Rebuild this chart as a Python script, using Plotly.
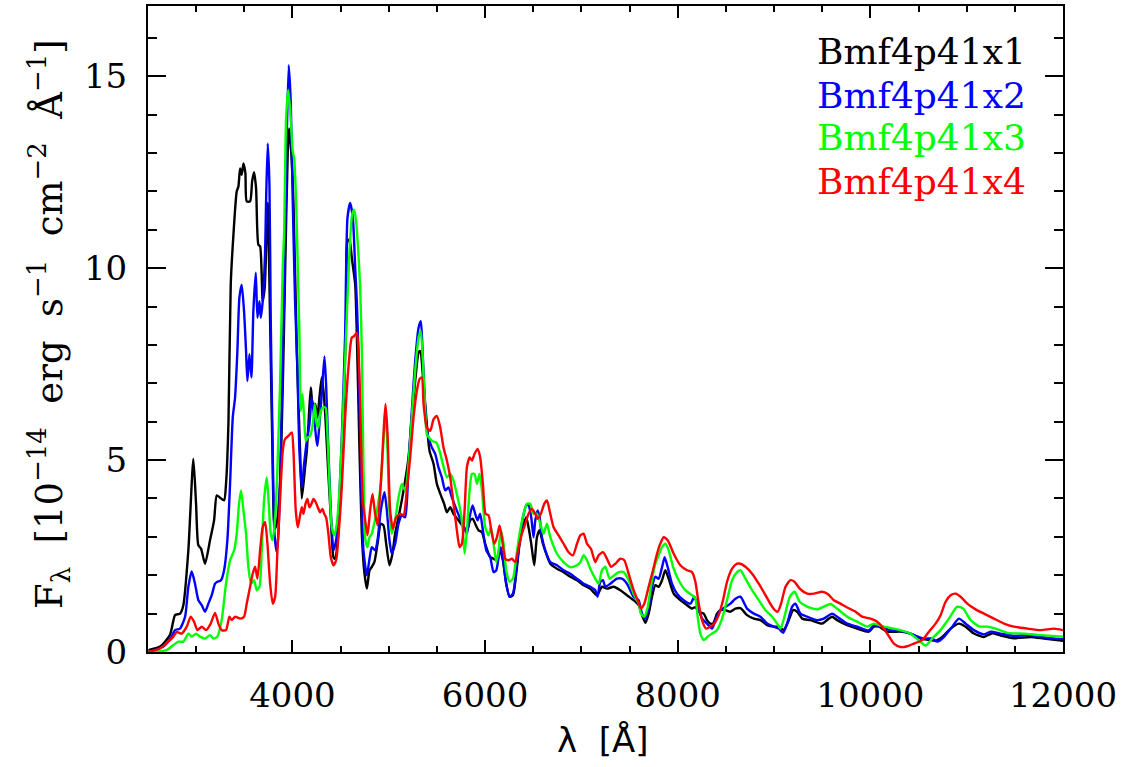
import plotly.graph_objects as go

# ---- data (wavelength [A], flux [1e-14 erg/s/cm2/A]) ----
series_names = ["Bmf4p41x1", "Bmf4p41x2", "Bmf4p41x3", "Bmf4p41x4"]
series_colors = ["#000000", "#0000ff", "#00ff00", "#ff0000"]

x1_points = [(2504,0.05),(2625,0.14),(2729,0.45),(2781,0.96),(2833,1.0),(2867,1.22),(2919,2.65),(2971,5.03),(2999,3.86),(3023,2.78),(3051,2.69),(3092,2.30),(3144,2.91),(3186,3.43),(3214,4.08),(3248,4.02),(3290,3.95),(3310,4.38),(3335,5.94),(3359,9.58),(3387,10.87),(3421,12.0),(3439,12.13),(3456,12.6),(3473,12.43),(3491,12.73),(3511,12.48),(3525,11.74),(3560,11.74),(3581,12.26),(3601,12.5),(3622,12.08),(3646,10.61),(3664,10.57),(3691,9.14),(3712,9.5),(3743,11.7),(3765,9.0),(3790,5.5),(3815,3.2),(3840,3.4),(3871,4.4),(3900,7.0),(3923,9.8),(3951,13.04),(3965,13.64),(3982,13.2),(4010,11.74),(4045,7.84),(4079,5.24),(4097,4.0),(4131,4.81),(4149,5.24),(4166,5.94),(4190,6.89),(4211,6.46),(4235,6.46),(4259,6.11),(4280,6.63),(4304,7.15),(4322,6.80),(4342,6.11),(4367,4.9),(4398,3.51),(4426,2.47),(4443,2.43),(4467,2.82),(4495,3.95),(4529,6.11),(4557,8.71),(4571,10.70),(4592,10.75),(4616,10.27),(4651,9.58),(4668,8.28),(4696,5.24),(4720,3.08),(4744,2.13),(4772,1.65),(4800,2.13),(4824,2.22),(4851,2.35),(4883,2.82),(4917,3.34),(4945,3.30),(4973,2.82),(5007,2.26),(5035,2.52),(5066,3.08),(5101,3.51),(5135,3.95),(5170,4.46),(5205,5.07),(5239,6.11),(5274,7.06),(5309,7.80),(5326,7.84),(5361,6.98),(5395,5.94),(5423,5.24),(5465,4.9),(5499,4.38),(5541,4.08),(5575,3.86),(5603,3.64),(5638,3.77),(5672,3.6),(5724,3.43),(5776,3.25),(5811,3.17),(5845,3.43),(5873,3.47),(5897,3.34),(5932,3.17),(5967,3.12),(6001,2.82),(6053,2.47),(6088,2.43),(6123,2.39),(6157,2.65),(6185,2.39),(6219,1.78),(6254,1.44),(6289,1.48),(6323,2.04),(6358,2.82),(6393,3.25),(6427,3.51),(6451,3.25),(6479,2.82),(6510,2.26),(6538,2.99),(6566,3.17),(6600,2.82),(6635,2.56),(6677,2.30),(6746,2.17),(6815,2.08),(6884,1.96),(6954,1.87),(7023,1.74),(7092,1.65),(7161,1.48),(7213,1.70),(7265,1.65),(7335,1.70),(7404,1.61),(7473,1.48),(7542,1.35),(7594,1.22),(7629,0.96),(7664,0.76),(7698,1.0),(7733,1.44),(7767,1.74),(7802,1.70),(7837,1.87),(7871,2.13),(7906,1.91),(7958,1.52),(8027,1.35),(8096,1.22),(8148,1.13),(8183,1.17),(8218,1.05),(8270,1.0),(8304,0.83),(8339,0.74),(8367,0.74),(8408,1.0),(8443,1.09),(8495,1.09),(8547,1.05),(8599,1.13),(8651,1.14),(8720,0.96),(8790,0.87),(8859,0.83),(8928,0.70),(8997,0.66),(9049,0.66),(9101,0.57),(9153,0.83),(9198,1.09),(9240,1.05),(9292,0.87),(9378,0.83),(9499,0.74),(9569,0.87),(9603,0.92),(9655,0.83),(9759,0.70),(9863,0.61),(9984,0.53),(10036,0.66),(10088,0.66),(10175,0.53),(10313,0.53),(10417,0.48),(10521,0.35),(10608,0.32),(10677,0.29),(10746,0.39),(10833,0.61),(10919,0.74),(10989,0.66),(11075,0.48),(11179,0.39),(11266,0.49),(11352,0.43),(11491,0.36),(11664,0.39),(11802,0.35),(12000,0.29)]

x2_points = [(2504,0.0),(2659,0.14),(2746,0.40),(2781,0.57),(2833,0.61),(2885,0.92),(2919,1.7),(2954,2.1),(2988,1.78),(3023,1.35),(3058,1.22),(3092,1.05),(3127,1.26),(3162,1.48),(3196,1.78),(3220,1.83),(3258,1.87),(3290,2.13),(3324,2.91),(3352,4.38),(3380,6.11),(3404,6.63),(3428,7.84),(3449,9.23),(3473,9.57),(3497,8.88),(3518,7.84),(3532,7.06),(3553,7.76),(3574,7.15),(3594,8.88),(3619,9.88),(3636,8.71),(3657,9.14),(3671,8.71),(3691,9.14),(3716,10.44),(3726,11.74),(3743,13.25),(3761,12.17),(3774,8.71),(3795,5.24),(3813,3.08),(3837,2.6),(3854,3.08),(3871,4.38),(3899,7.84),(3913,9.14),(3941,13.47),(3961,15.29),(3982,14.34),(4003,11.74),(4027,9.14),(4051,7.41),(4072,5.24),(4097,4.29),(4121,4.9),(4149,5.5),(4176,5.94),(4200,6.63),(4225,6.11),(4245,5.59),(4259,5.37),(4277,5.85),(4304,6.72),(4332,7.7),(4349,6.98),(4373,5.24),(4398,3.69),(4426,2.65),(4453,2.91),(4477,3.6),(4512,5.59),(4547,8.28),(4571,11.31),(4599,11.7),(4627,11.31),(4651,10.01),(4668,9.14),(4685,7.84),(4710,4.81),(4737,2.65),(4772,2.0),(4800,2.43),(4824,2.73),(4858,2.65),(4883,2.91),(4917,3.69),(4955,4.16),(4980,3.69),(5007,2.91),(5031,2.56),(5066,2.82),(5101,3.34),(5135,3.56),(5170,3.51),(5205,4.9),(5239,6.28),(5274,7.58),(5309,8.45),(5333,8.62),(5350,7.9),(5375,6.5),(5395,5.76),(5447,5.33),(5482,5.16),(5516,4.81),(5551,4.55),(5586,4.21),(5620,4.29),(5655,4.03),(5700,3.73),(5735,3.51),(5769,3.34),(5811,3.08),(5839,3.51),(5870,3.82),(5897,3.6),(5922,3.43),(5949,3.6),(5977,3.17),(6012,2.65),(6053,2.47),(6088,2.08),(6116,2.13),(6140,2.47),(6164,2.73),(6192,2.30),(6219,1.78),(6254,1.44),(6289,1.52),(6323,2.13),(6358,2.91),(6393,3.51),(6427,3.82),(6451,3.82),(6479,3.51),(6503,2.99),(6521,3.43),(6545,3.69),(6566,3.51),(6590,2.99),(6625,2.65),(6677,2.34),(6746,2.26),(6815,2.13),(6884,2.04),(6954,1.91),(7023,1.78),(7092,1.70),(7144,1.61),(7168,1.44),(7196,1.83),(7224,1.87),(7248,1.70),(7300,1.78),(7369,1.91),(7421,1.91),(7473,1.78),(7542,1.44),(7594,1.35),(7629,1.0),(7664,0.87),(7698,1.17),(7733,1.70),(7767,1.96),(7802,1.91),(7837,2.21),(7864,2.47),(7896,2.21),(7940,1.78),(7992,1.52),(8062,1.35),(8131,1.26),(8173,1.44),(8200,1.26),(8252,0.87),(8304,0.74),(8356,0.61),(8391,0.83),(8443,1.09),(8495,1.17),(8547,1.26),(8599,1.39),(8651,1.44),(8720,1.13),(8790,1.0),(8859,0.92),(8928,0.74),(8997,0.66),(9049,0.61),(9094,0.50),(9136,0.74),(9188,1.18),(9222,1.26),(9274,1.0),(9344,0.92),(9447,0.83),(9517,0.87),(9603,1.0),(9655,0.92),(9759,0.74),(9863,0.66),(9984,0.56),(10036,0.70),(10106,0.66),(10210,0.57),(10348,0.53),(10452,0.44),(10556,0.35),(10642,0.35),(10694,0.27),(10763,0.39),(10850,0.66),(10919,0.87),(10989,0.74),(11075,0.57),(11179,0.46),(11248,0.53),(11352,0.48),(11491,0.42),(11664,0.44),(11802,0.38),(12000,0.33)]

x3_points = [(2504,0.0),(2694,0.05),(2763,0.18),(2815,0.27),(2867,0.27),(2919,0.48),(2954,0.40),(2999,0.48),(3040,0.40),(3092,0.35),(3144,0.44),(3179,0.35),(3220,0.40),(3265,0.83),(3310,1.78),(3352,2.39),(3394,2.65),(3421,3.08),(3445,3.86),(3466,4.21),(3491,3.69),(3518,3.08),(3542,2.22),(3570,1.78),(3601,1.87),(3629,1.61),(3657,1.70),(3681,2.65),(3705,3.95),(3733,4.55),(3754,3.86),(3774,3.08),(3795,2.91),(3820,3.51),(3844,4.81),(3871,6.98),(3899,10.01),(3913,10.88),(3934,13.9),(3955,14.64),(3975,14.16),(4003,13.04),(4017,12.87),(4038,11.74),(4055,10.01),(4072,8.28),(4086,6.28),(4104,6.72),(4121,6.11),(4138,5.5),(4159,5.59),(4183,5.63),(4211,5.94),(4231,6.46),(4252,5.94),(4270,5.85),(4287,6.2),(4315,6.37),(4342,6.37),(4363,5.68),(4384,4.38),(4408,3.25),(4436,3.04),(4460,3.34),(4488,4.21),(4523,6.11),(4557,8.28),(4592,10.44),(4620,11.4),(4640,11.52),(4661,11.22),(4685,10.35),(4703,9.49),(4720,7.84),(4737,4.81),(4758,2.91),(4779,2.73),(4800,2.99),(4824,3.08),(4848,3.34),(4883,3.77),(4917,4.38),(4945,5.5),(4966,6.37),(4987,5.24),(5007,3.69),(5031,3.08),(5066,3.43),(5101,4.03),(5135,4.38),(5170,4.21),(5205,4.9),(5239,6.11),(5274,7.32),(5309,8.19),(5333,8.36),(5361,7.2),(5380,6.2),(5395,5.68),(5447,5.5),(5492,5.46),(5527,5.24),(5561,4.9),(5603,4.55),(5638,4.64),(5672,4.46),(5714,4.03),(5749,3.6),(5769,3.17),(5787,2.56),(5811,3.17),(5839,4.21),(5863,4.64),(5890,4.64),(5915,4.38),(5942,4.64),(5967,4.21),(6001,3.25),(6036,3.04),(6060,3.25),(6088,2.82),(6116,2.34),(6140,2.65),(6164,3.17),(6192,2.82),(6219,2.13),(6254,1.83),(6289,1.91),(6323,2.47),(6358,3.08),(6400,3.6),(6434,3.86),(6469,3.86),(6503,3.6),(6538,3.6),(6573,3.34),(6607,3.08),(6642,3.34),(6677,2.99),(6746,2.56),(6815,2.34),(6884,2.21),(6954,2.26),(6988,2.34),(7023,2.52),(7058,2.39),(7092,2.17),(7144,1.91),(7179,1.78),(7213,2.13),(7248,2.22),(7293,1.91),(7335,1.99),(7387,2.08),(7439,2.08),(7490,1.87),(7542,1.52),(7594,1.26),(7618,1.0),(7653,0.92),(7688,1.17),(7726,1.78),(7767,2.30),(7802,2.52),(7837,2.73),(7871,2.82),(7906,2.65),(7951,2.22),(8010,1.87),(8079,1.61),(8148,1.48),(8183,1.39),(8207,0.92),(8235,0.48),(8270,0.31),(8311,0.40),(8356,0.48),(8408,0.57),(8460,0.87),(8512,1.35),(8564,1.87),(8616,2.08),(8651,2.13),(8703,1.91),(8772,1.61),(8841,1.35),(8911,1.09),(8980,0.92),(9032,0.74),(9067,0.61),(9108,0.92),(9164,1.44),(9212,1.57),(9267,1.31),(9344,1.18),(9447,1.11),(9517,1.18),(9586,1.25),(9655,1.13),(9759,0.92),(9863,0.79),(9967,0.66),(10036,0.74),(10140,0.66),(10279,0.59),(10417,0.48),(10504,0.30),(10573,0.17),(10642,0.35),(10729,0.57),(10815,0.87),(10902,1.18),(10964,1.13),(11041,0.83),(11127,0.67),(11214,0.66),(11300,0.61),(11422,0.50),(11595,0.48),(11768,0.44),(12000,0.40)]

x4_points = [(2504,0.0),(2625,0.09),(2711,0.27),(2763,0.40),(2798,0.52),(2850,0.48),(2902,0.66),(2943,0.92),(2978,0.79),(3013,0.57),(3058,0.66),(3103,0.57),(3151,0.74),(3196,1.02),(3231,0.74),(3265,0.57),(3310,0.57),(3345,0.92),(3369,0.83),(3404,0.92),(3456,0.87),(3497,0.92),(3525,1.26),(3560,1.7),(3587,2.04),(3612,2.22),(3636,1.91),(3664,2.65),(3691,3.25),(3716,3.38),(3740,2.82),(3768,1.78),(3795,1.26),(3820,1.44),(3844,2.65),(3871,3.95),(3899,5.24),(3923,5.55),(3958,5.63),(3993,5.72),(4010,5.24),(4034,3.69),(4055,3.25),(4079,3.56),(4097,3.77),(4114,3.6),(4135,3.86),(4155,3.99),(4176,3.77),(4197,3.86),(4218,3.99),(4242,3.90),(4263,3.77),(4287,3.64),(4311,3.73),(4329,3.60),(4349,3.51),(4373,3.08),(4398,2.47),(4426,2.26),(4453,2.39),(4477,2.99),(4512,4.29),(4547,6.11),(4581,7.41),(4616,8.19),(4640,8.23),(4668,8.32),(4685,7.84),(4703,6.54),(4730,3.95),(4755,3.43),(4779,3.04),(4806,3.69),(4831,4.12),(4858,3.6),(4883,3.30),(4917,4.38),(4945,5.68),(4966,6.46),(4987,5.68),(5014,3.69),(5042,3.21),(5077,3.51),(5118,3.6),(5153,3.56),(5187,4.21),(5222,5.07),(5257,6.11),(5291,6.80),(5319,7.11),(5343,7.15),(5361,6.46),(5395,5.85),(5430,5.76),(5465,6.07),(5499,6.15),(5534,5.85),(5568,5.33),(5603,4.99),(5638,4.55),(5672,3.86),(5707,3.17),(5735,2.73),(5759,2.82),(5787,3.69),(5811,4.81),(5839,5.07),(5863,4.99),(5890,5.16),(5922,5.29),(5949,5.07),(5977,4.38),(6005,3.6),(6036,3.56),(6064,3.17),(6095,2.82),(6123,2.99),(6150,3.30),(6174,2.99),(6209,2.43),(6244,2.39),(6278,2.43),(6313,2.34),(6348,2.73),(6382,3.08),(6417,3.34),(6451,3.60),(6486,3.73),(6521,3.60),(6545,3.47),(6579,3.60),(6614,3.86),(6642,3.95),(6677,3.60),(6711,3.25),(6763,3.04),(6815,2.82),(6867,2.60),(6912,2.52),(6954,2.82),(6988,3.04),(7023,3.08),(7058,2.82),(7099,2.69),(7144,2.34),(7179,2.52),(7224,2.60),(7265,2.43),(7307,2.22),(7352,2.30),(7404,2.43),(7445,2.39),(7490,2.04),(7542,1.61),(7584,1.35),(7619,1.13),(7653,1.26),(7698,1.70),(7743,2.13),(7785,2.56),(7819,2.82),(7854,2.99),(7896,2.91),(7958,2.56),(8027,2.26),(8096,2.13),(8148,2.08),(8183,1.83),(8218,1.26),(8252,0.83),(8294,0.61),(8339,0.66),(8380,0.74),(8425,0.96),(8470,1.35),(8512,1.83),(8564,2.17),(8616,2.30),(8651,2.30),(8703,2.22),(8772,2.04),(8841,1.78),(8911,1.48),(8970,1.22),(9008,1.09),(9039,1.05),(9073,1.26),(9119,1.70),(9170,1.87),(9212,1.83),(9267,1.65),(9344,1.52),(9413,1.52),(9499,1.57),(9558,1.51),(9621,1.35),(9690,1.26),(9759,1.16),(9846,1.05),(9915,0.92),(10002,0.87),(10071,0.79),(10123,0.66),(10175,0.48),(10244,0.22),(10313,0.13),(10383,0.15),(10452,0.22),(10538,0.31),(10608,0.53),(10677,0.74),(10729,0.96),(10781,1.31),(10833,1.48),(10885,1.52),(10937,1.44),(11006,1.26),(11092,1.11),(11179,1.0),(11283,0.87),(11387,0.74),(11491,0.66),(11629,0.61),(11768,0.57),(11906,0.61),(12000,0.57)]

all_points = [x1_points, x2_points, x3_points, x4_points]

x_range = [2500, 12000]
y_range = [0, 16.83]
x_tickvals = [4000, 6000, 8000, 10000, 12000]
x_ticktext = ["4000", "6000", "8000", "10000", "12000"]
y_tickvals = [0, 5, 10, 15]
y_ticktext = ["0", "5", "10", "15"]

SERIF = "DejaVu Serif"
SANS = "DejaVu Sans"

fig = go.Figure()
for pts, name, col in zip(all_points, series_names, series_colors):
    wl = [p[0] for p in pts]
    fl = [p[1] for p in pts]
    fig.add_trace(go.Scatter(x=wl, y=fl, mode="lines", name=name,
                             line=dict(color=col, width=2.4, shape="spline", smoothing=0.6),
                             showlegend=False, hoverinfo="skip"))

# legend as coloured text
leg_y = [0.929, 0.861, 0.796, 0.728]
for name, col, yy in zip(series_names, series_colors, leg_y):
    fig.add_annotation(text=name, xref="paper", yref="paper", x=0.729, y=yy,
                       xanchor="left", yanchor="middle", showarrow=False,
                       font=dict(family=SERIF, size=36, color=col))

# axis titles
fig.add_annotation(text="F<sub>λ</sub>\u00a0\u00a0[10<sup>\u221214</sup>\u00a0\u00a0erg\u00a0\u00a0s<sup>\u22121</sup>\u00a0\u00a0cm<sup>\u22122</sup>\u00a0\u00a0Å<sup>\u22121</sup>]",
                   xref="paper", yref="paper", x=-0.108, y=0.508, textangle=-90,
                   xanchor="center", yanchor="middle", showarrow=False,
                   font=dict(family=SERIF, size=37, color="black"))
fig.add_annotation(text="λ\u00a0\u00a0[Å]", xref="paper", yref="paper", x=0.497, y=-0.136,
                   xanchor="center", yanchor="middle", showarrow=False,
                   font=dict(family=SANS, size=34, color="black"))

axis_common = dict(showline=True, linewidth=2, linecolor="black", mirror="allticks",
                   ticks="inside", tickwidth=2, tickcolor="black", showgrid=False,
                   zeroline=False, tickfont=dict(family=SERIF, size=34, color="black"))

fig.update_xaxes(range=x_range, tickvals=x_tickvals, ticktext=x_ticktext, ticklen=12,
                 ticklabelstandoff=12,
                 minor=dict(ticks="inside", dtick=500, tick0=2500, ticklen=6, tickwidth=2,
                            tickcolor="black", showgrid=False),
                 **axis_common)
fig.update_yaxes(range=y_range, tickvals=y_tickvals, ticktext=y_ticktext, ticklen=18,
                 ticklabelstandoff=12,
                 minor=dict(ticks="inside", dtick=1, tick0=0, ticklen=9, tickwidth=2,
                            tickcolor="black", showgrid=False),
                 **axis_common)

fig.update_layout(width=1127, height=767, plot_bgcolor="white", paper_bgcolor="white",
                  margin=dict(l=148, r=64, t=4, b=115), showlegend=False)

fig.write_html("out.html")
